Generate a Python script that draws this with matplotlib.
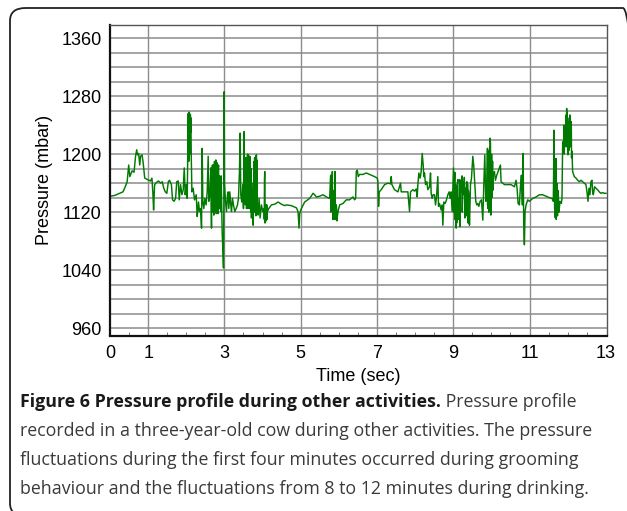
import matplotlib
matplotlib.use("Agg")
import matplotlib.pyplot as plt
from matplotlib.patches import FancyBboxPatch
from matplotlib.ticker import MultipleLocator

# ---------------- data ----------------
time_min = [
    0.00, 0.12, 0.25, 0.34, 0.40, 0.45, 0.49, 0.52, 0.58, 0.63, 0.67, 0.70, 0.72, 0.75, 0.78, 0.80,
    0.84, 0.87, 0.91, 0.98, 1.06, 1.10, 1.126, 1.143, 1.17, 1.22, 1.27, 1.33, 1.37, 1.41, 1.45, 1.49,
    1.53, 1.56, 1.61, 1.64, 1.68, 1.72, 1.75, 1.79, 1.815, 1.85, 1.885, 1.92, 1.946, 1.972, 2.00, 2.025,
    2.05, 2.07, 2.094, 2.11, 2.13, 2.147, 2.18, 2.216, 2.26, 2.286,
    2.30, 2.32, 2.347, 2.373, 2.40, 2.417, 2.434, 2.46, 2.487, 2.52, 2.548, 2.574, 2.59, 2.617, 2.644,
    2.661, 2.68, 2.705, 2.722, 2.74, 2.757, 2.775, 2.792, 2.81, 2.827, 2.845, 2.862, 2.88, 2.906, 2.923,
    2.94, 2.958, 2.975, 2.984, 2.993, 3.002, 3.028, 3.054, 3.08, 3.098, 3.115, 3.141, 3.167, 3.185,
    3.211, 3.237, 3.272, 3.307, 3.342, 3.368, 3.394, 3.412, 3.429, 3.455, 3.482, 3.499, 3.516, 3.534,
    3.56, 3.578, 3.595, 3.612, 3.63, 3.647, 3.665, 3.682, 3.708, 3.726, 3.752, 3.77, 3.796, 3.813,
    3.839, 3.857, 3.883, 3.909, 3.935, 3.97, 4.005, 4.04, 4.057, 4.075, 4.101, 4.127, 4.162, 4.232,
    4.319, 4.407, 4.494, 4.581,
    4.625, 4.755, 4.886, 4.93, 4.956, 4.974, 5.017, 5.104, 5.235, 5.323, 5.366, 5.41, 5.497, 5.584,
    5.672, 5.759, 5.785, 5.811, 5.829, 5.846, 5.864, 5.881, 5.899, 5.916, 5.933, 5.96, 5.986, 6.021,
    6.108, 6.195, 6.282, 6.37, 6.413, 6.44, 6.457, 6.483, 6.509, 6.544, 6.632, 6.719, 6.806,
    6.85, 6.937, 7.007, 7.024, 7.041, 7.059, 7.111, 7.199, 7.286, 7.356, 7.373, 7.391, 7.46, 7.548,
    7.617, 7.635, 7.722, 7.809, 7.853, 7.879, 7.94, 7.984, 8.027, 8.054, 8.071, 8.097, 8.132, 8.158,
    8.185, 8.211, 8.228, 8.246, 8.272, 8.307, 8.333, 8.377, 8.403, 8.42, 8.446, 8.473, 8.507, 8.534,
    8.56, 8.595, 8.612, 8.638, 8.682, 8.708, 8.726, 8.752, 8.787, 8.822, 8.857, 8.891, 8.918, 8.944,
    8.97,
    9.006, 9.032, 9.058, 9.076, 9.102, 9.137, 9.163, 9.189, 9.215, 9.25, 9.276, 9.302, 9.329, 9.355,
    9.381, 9.407, 9.425, 9.451, 9.477, 9.512, 9.538, 9.564, 9.59, 9.617, 9.643, 9.669, 9.704, 9.739,
    9.774, 9.80, 9.826, 9.852, 9.878, 9.896, 9.922, 9.948, 9.966, 9.983, 10.00, 10.018, 10.044, 10.079,
    10.105, 10.14, 10.175, 10.21, 10.236, 10.253, 10.297, 10.341, 10.428, 10.515, 10.603, 10.646,
    10.672, 10.699, 10.733, 10.76, 10.786, 10.812, 10.83, 10.847, 10.864, 10.882, 10.908, 10.952,
    10.995, 11.083, 11.17, 11.257,
    11.344, 11.431, 11.519, 11.588, 11.623, 11.641, 11.658, 11.676, 11.693, 11.711, 11.728, 11.745,
    11.763, 11.798, 11.833, 11.85, 11.868, 11.894, 11.92, 11.937, 11.955, 11.972, 11.99, 12.007,
    12.025, 12.042, 12.06, 12.077, 12.094, 12.112, 12.129, 12.173, 12.217, 12.26, 12.304, 12.348,
    12.391, 12.435, 12.478, 12.505, 12.531, 12.557, 12.583, 12.609, 12.636, 12.653, 12.671, 12.705,
    12.74, 12.784, 12.827, 12.871, 12.915, 12.958, 13.002,
]
pressure_mbar = [
    1142, 1143, 1146, 1148, 1155, 1162, 1185, 1169, 1177, 1175, 1197, 1206, 1199, 1201, 1185, 1197,
    1199, 1188, 1167, 1165, 1163, 1167, 1144, 1123, 1158, 1161, 1163, 1160, 1162, 1153, 1148, 1146,
    1162, 1164, 1158, 1137, 1135, 1139, 1162, 1163, 1137, 1158, 1144, 1151, 1181, 1144, 1158, 1139,
    1256, 1256, 1250, 1254, 1199, 1148, 1153, 1137, 1144, 1114,
    1121, 1134, 1121, 1125, 1098, 1208, 1135, 1125, 1139, 1130, 1148, 1197, 1135, 1144, 1181,
    1098, 1150, 1167, 1116, 1190, 1125, 1192, 1121, 1188, 1130, 1185, 1144, 1158, 1121, 1148,
    1093, 1070, 1043, 1120, 1286, 1160, 1135, 1121, 1144, 1148, 1125, 1148, 1130, 1121,
    1139, 1130, 1121, 1125, 1130, 1139, 1176, 1229, 1144, 1134, 1158, 1125, 1231, 1144,
    1181, 1125, 1192, 1139, 1199, 1148, 1197, 1130, 1112, 1160, 1102, 1144, 1194, 1135,
    1199, 1125, 1116, 1139, 1112, 1130, 1121, 1125, 1176, 1107, 1116, 1121, 1125, 1130,
    1131, 1134, 1131, 1129,
    1130, 1129, 1126, 1121, 1098, 1118, 1125, 1134, 1139, 1146, 1144, 1141, 1142, 1144,
    1141, 1139, 1171, 1130, 1176, 1137, 1123, 1114, 1176, 1116, 1130, 1114, 1123, 1130,
    1132, 1137, 1137, 1141, 1137, 1139, 1176, 1178, 1169, 1172, 1172, 1174, 1172,
    1171, 1169, 1167, 1162, 1128, 1148, 1151, 1158, 1160, 1159, 1169, 1158, 1151, 1148,
    1160, 1148, 1148, 1148, 1121, 1148, 1151, 1149, 1152, 1141, 1158, 1174, 1167, 1176,
    1201, 1185, 1169, 1174, 1158, 1162, 1151, 1155, 1174, 1146, 1139, 1144, 1144, 1130,
    1141, 1169, 1128, 1132, 1123, 1130, 1102, 1134, 1132, 1137, 1144, 1148, 1139, 1148,
    1121,
    1181, 1162, 1158, 1098, 1158, 1139, 1116, 1158, 1148, 1162, 1144, 1112, 1153, 1162,
    1158, 1144, 1102, 1158, 1167, 1197, 1183, 1158, 1135, 1130, 1132, 1128, 1135, 1137,
    1109, 1158, 1199, 1135, 1139, 1208, 1199, 1135, 1222, 1116, 1176, 1162, 1171, 1176,
    1164, 1171, 1176, 1181, 1185, 1162, 1160, 1158, 1158, 1158, 1155, 1164,
    1153, 1132, 1130, 1155, 1171, 1130, 1201, 1102, 1075, 1121, 1130, 1137,
    1135, 1139, 1141, 1144,
    1144, 1142, 1140, 1139, 1135, 1233, 1125, 1112, 1194, 1132, 1116, 1137,
    1128, 1135, 1132, 1139, 1217, 1215, 1231, 1227, 1254, 1263, 1250, 1199,
    1231, 1250, 1254, 1222, 1245, 1204, 1176, 1169, 1167, 1164, 1162, 1164,
    1162, 1160, 1158, 1148, 1135, 1153, 1144, 1162, 1164, 1148, 1144, 1155,
    1153, 1151, 1148, 1146, 1147, 1146, 1146,
]

# additional readings inside the densely oscillating stretches
dense_time_min = [
    2.055, 2.06, 2.065, 2.075, 2.08, 2.085, 2.10, 2.105, 2.115, 2.12,
    2.665, 2.67, 2.685, 2.69, 2.70, 2.715, 2.73, 2.745, 2.75, 2.765, 2.77, 2.785, 2.80, 2.815,
    2.82, 2.835, 2.84, 2.855, 2.87, 2.89, 2.895, 2.915,
    3.54, 3.545, 3.555, 3.57, 3.585, 3.59, 3.60, 3.605, 3.62, 3.625, 3.64, 3.655, 3.66, 3.675,
    3.69, 3.70,
    3.78, 3.785, 3.79, 3.805, 3.82, 3.825, 3.83, 3.845, 3.85,
    4.045, 4.05, 4.065, 4.085, 4.09, 4.11, 4.115,
    5.79, 5.795, 5.84, 5.87, 5.875, 5.905, 5.92, 5.94, 5.95,
    9.01, 9.04, 9.045, 9.085, 9.09, 9.12, 9.125, 9.17, 9.175, 9.23, 9.235, 9.29, 9.34, 9.345,
    9.39, 9.395,
    9.90, 9.905, 9.91, 9.93, 9.935, 9.955, 9.96, 9.975, 9.99, 10.005, 10.01, 10.03, 10.035,
    11.665, 11.67, 11.68, 11.70, 11.72, 11.735, 11.75, 11.77,
    11.90, 11.91, 11.945, 11.96, 11.98, 11.995, 12.015, 12.03, 12.05, 12.065, 12.085, 12.10,
]
dense_pressure_mbar = [
    1200, 1255, 1190, 1258, 1210, 1252, 1200, 1255, 1230, 1250,
    1180, 1120, 1185, 1125, 1180, 1185, 1125, 1120, 1188, 1190, 1130, 1118, 1185, 1125,
    1183, 1118, 1180, 1125, 1170, 1160, 1125, 1170,
    1190, 1130, 1195, 1190, 1130, 1195, 1130, 1200, 1125, 1195, 1130, 1195, 1125, 1190,
    1120, 1180,
    1190, 1120, 1195, 1125, 1198, 1115, 1195, 1120, 1192,
    1110, 1165, 1105, 1130, 1108, 1130, 1110,
    1120, 1165, 1110, 1150, 1110, 1140, 1110, 1125, 1108,
    1120, 1175, 1110, 1150, 1105, 1165, 1110, 1165, 1100, 1170, 1120, 1168, 1115, 1160,
    1105, 1150,
    1130, 1205, 1125, 1190, 1120, 1210, 1125, 1215, 1130, 1200, 1140, 1190, 1150,
    1180, 1115, 1150, 1110, 1160, 1115, 1150, 1120,
    1240, 1200, 1240, 1210, 1258, 1215, 1245, 1205, 1245, 1210, 1240, 1195,
]

x_tick_values = [0, 1, 3, 5, 7, 9, 11, 13]
x_grid_values = [1, 3, 5, 7, 9, 11]
y_tick_values = [960, 1040, 1120, 1200, 1280, 1360]

caption_bold = "Figure 6 Pressure profile during other activities."
caption_lines = [
    " Pressure profile",
    "recorded in a three-year-old cow during other activities. The pressure",
    "fluctuations during the first four minutes occurred during grooming",
    "behaviour and the fluctuations from 8 to 12 minutes during drinking.",
]

# merge the two sets of readings in time order
pairs = sorted(zip(time_min + dense_time_min, pressure_mbar + dense_pressure_mbar))
t_all = [p[0] for p in pairs]
v_all = [p[1] for p in pairs]

# ---------------- figure ----------------
W, H = 627, 511
fig = plt.figure(figsize=(W / 100, H / 100), dpi=100)
fig.patch.set_facecolor("white")

frame = FancyBboxPatch((10 / W, -0.01), (626 - 10) / W + 0.02, (H - 8) / H + 0.01,
                       boxstyle="round,pad=0,rounding_size=0.025",
                       transform=fig.transFigure, fill=False,
                       edgecolor="#222222", linewidth=1.3, clip_on=False)
fig.patches.append(frame)

ax = fig.add_axes([110 / W, 1 - 335.5 / H, (607 - 110) / W, (335.5 - 25) / H])
ax.plot(t_all, v_all, color="#007a00", linewidth=1.05)

ax.set_xlim(0, 13.03)
ax.set_ylim(950, 1378)

for yv in range(960, 1380, 20):
    ax.axhline(yv, color="#a4a4a4", linewidth=1.4, zorder=0)
for xv in x_grid_values:
    ax.axvline(xv, color="#8c8c8c", linewidth=1.0, zorder=0)

ax.set_xticks(x_tick_values)
ax.xaxis.set_minor_locator(MultipleLocator(0.5))
ax.set_yticks(y_tick_values)
ax.tick_params(axis="x", which="major", length=0, pad=7, labelsize=13)
ax.tick_params(axis="x", which="minor", direction="in", length=3, color="#666666")
ax.tick_params(axis="y", which="both", length=0, pad=6, labelsize=13)
for lab in ax.get_xticklabels() + ax.get_yticklabels():
    lab.set_fontfamily("Liberation Sans")

for s in ["left", "bottom"]:
    ax.spines[s].set_color("#111111")
    ax.spines[s].set_linewidth(1.6)
for s in ["top", "right"]:
    ax.spines[s].set_color("#555555")
    ax.spines[s].set_linewidth(1.0)

ax.set_xlabel("Time (sec)", fontsize=13, family="Liberation Sans", labelpad=4)
ax.set_ylabel("Pressure (mbar)", fontsize=13, family="Liberation Sans", labelpad=6)

# caption
cap_font = "Open Sans"
cap_size = 12.8
x0 = 20 / W
line_y = [402, 431, 460, 489]
tb = fig.text(x0, 1 - line_y[0] / H, caption_bold, fontsize=cap_size, family=cap_font,
              weight="bold", color="#1a1a1a", va="center", ha="left")
fig.canvas.draw()
r = fig.canvas.get_renderer()
bb = tb.get_window_extent(renderer=r)
fig.text(bb.x1 / W, 1 - line_y[0] / H, caption_lines[0], fontsize=cap_size, family=cap_font,
         color="#3a3a3a", va="center", ha="left")
for ln, yy in zip(caption_lines[1:], line_y[1:]):
    fig.text(x0, 1 - yy / H, ln, fontsize=cap_size, family=cap_font,
             color="#3a3a3a", va="center", ha="left")

fig.savefig("out.png", dpi=100, facecolor="white")
